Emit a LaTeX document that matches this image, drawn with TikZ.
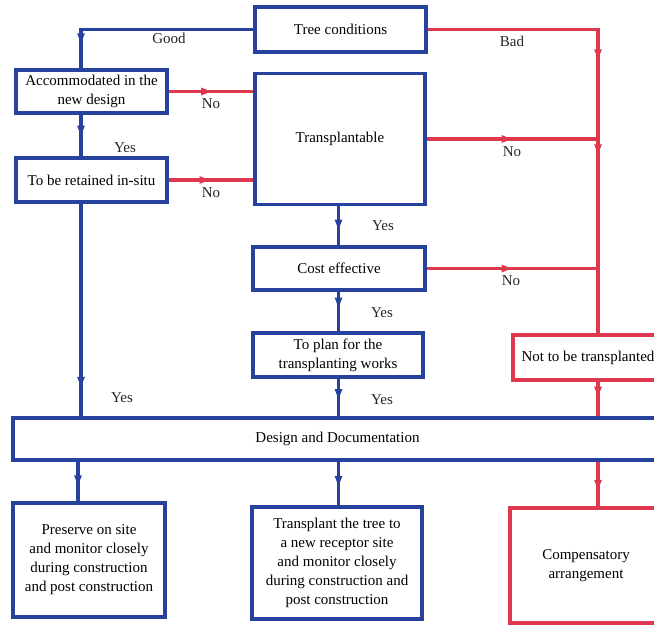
\documentclass[tikz,border=0pt]{standalone}
\usepackage{fontspec}
\setmainfont{Liberation Serif}
\usetikzlibrary{arrows.meta,decorations.markings}

\definecolor{flowblue}{RGB}{38,66,158}
\definecolor{flowred}{RGB}{221,56,78}

\begin{document}
\begin{tikzpicture}[
    x=1pt, y=-1pt,
    font=\fontsize{15}{19}\selectfont,
    box/.style={draw, line width=3.2pt, align=center, inner sep=2pt},
    bluebox/.style={box, draw=flowblue},
    redbox/.style={box, draw=flowred},
    blueline/.style={flowblue, line width=3.2pt, line join=miter},
    redline/.style={flowred, line width=3.2pt, line join=miter},
    midarrow/.style={postaction={decorate}, decoration={markings,
        mark=at position #1 with {\arrow{Latex[length=14pt,width=8pt]}}}},
    lbl/.style={text=black!85, inner sep=1pt}
    ]
    \useasboundingbox (0,0) rectangle (654,625);
    \clip (0,0) rectangle (654,625);

    % boxes
    \node [bluebox, minimum width=171, minimum height=45]
        (tree) at (340.5,29.5) {Tree conditions}
        ;
    \node [bluebox, minimum width=151, minimum height=43]
        (accom) at (91.5,91.5) {Accommodated in the\\new design}
        ;
    \node [bluebox, minimum width=170, minimum height=131]
        (transp) at (340,139) {Transplantable}
        ;
    \node [bluebox, minimum width=151, minimum height=44]
        (retain) at (91.5,180) {To be retained in-situ}
        ;
    \node [bluebox, minimum width=172, minimum height=43]
        (cost) at (339,268.5) {Cost effective}
        ;
    \node [bluebox, minimum width=170, minimum height=44]
        (plan) at (338,355) {To plan for the\\transplanting works}
        ;
    \node [redbox, minimum width=150, minimum height=45]
        (notb) at (588,357.5) {Not to be transplanted}
        ;
    \node [bluebox, minimum width=649, minimum height=42]
        (design) at (337.5,439) {Design and Documentation}
        ;
    \node [bluebox, minimum width=152, minimum height=114]
        (preserve) at (89,560) {Preserve on site\\and monitor closely\\during construction\\and post construction}
        ;
    \node [bluebox, minimum width=170, minimum height=112]
        (transplant) at (337,563) {Transplant the tree to\\a new receptor site\\and monitor closely\\during construction and\\post construction}
        ;
    \node [redbox, minimum width=152, minimum height=115]
        (comp) at (586,565.5) {Compensatory\\arrangement}
        ;

    % columns of the connectors
    \coordinate (ln) at (81,0);
    \coordinate (bx) at (78,0);
    \coordinate (mx) at (338.5,0);
    \coordinate (rx) at (598,0);
    \coordinate (gd) at (ln |- tree.west);
    \coordinate (jb) at (rx |- tree.east);
    \coordinate (jt) at (rx |- transp.east);
    \coordinate (jc) at (rx |- cost.east);

    % blue connectors
    \draw [blueline, midarrow=0.9]
        (tree.west) -- (gd) -- (gd |- accom.north)
        ;
    \draw [blueline, midarrow=0.6]
        (accom.south -| ln) -- (retain.north -| ln)
        ;
    \draw [blueline, midarrow=0.88]
        (retain.south -| ln) -- (design.north -| ln)
        ;
    \draw [blueline, midarrow=0.7]
        (transp.south -| mx) -- (cost.north -| mx)
        ;
    \draw [blueline, midarrow=0.5]
        (cost.south -| mx) -- (plan.north -| mx)
        ;
    \draw [blueline, midarrow=0.65]
        (plan.south -| mx) -- (design.north -| mx)
        ;
    \draw [blueline, midarrow=0.7]
        (design.south -| bx) -- (preserve.north -| bx)
        ;
    \draw [blueline, midarrow=0.65]
        (design.south -| mx) -- (transplant.north -| mx)
        ;

    % red connectors
    \draw [redline, midarrow=0.73]
        (tree.east) -- (jb) -- (jt)
        ;
    \draw [redline, midarrow=0.1]
        (jt) -- (notb.north -| rx)
        ;
    \draw [redline, midarrow=0.55]
        (accom.east) -- (transp.west |- accom.east)
        ;
    \draw [redline, midarrow=0.53]
        (retain.east) -- (transp.west |- retain.east)
        ;
    \draw [redline, midarrow=0.52]
        (transp.east) -- (jt)
        ;
    \draw [redline, midarrow=0.52]
        (cost.east) -- (jc)
        ;
    \draw [redline, midarrow=0.55]
        (notb.south -| rx) -- (design.north -| rx)
        ;
    \draw [redline, midarrow=0.72]
        (design.south -| rx) -- (comp.north -| rx)
        ;

    % labels
    \node [lbl] (lgood) at (169,38) {Good};
    \node [lbl] (lbad) at (512,41) {Bad};
    \node [lbl] (lnoa) at (211,104) {No};
    \node [lbl] (lnob) at (211,193) {No};
    \node [lbl] (lnoc) at (512,152) {No};
    \node [lbl] (lnod) at (511,281) {No};
    \node [lbl] (lyesa) at (125,148) {Yes};
    \node [lbl] (lyesb) at (383,226) {Yes};
    \node [lbl] (lyesc) at (382,313) {Yes};
    \node [lbl] (lyesd) at (382,400) {Yes};
    \node [lbl] (lyese) at (122,398) {Yes};
\end{tikzpicture}
\end{document}
